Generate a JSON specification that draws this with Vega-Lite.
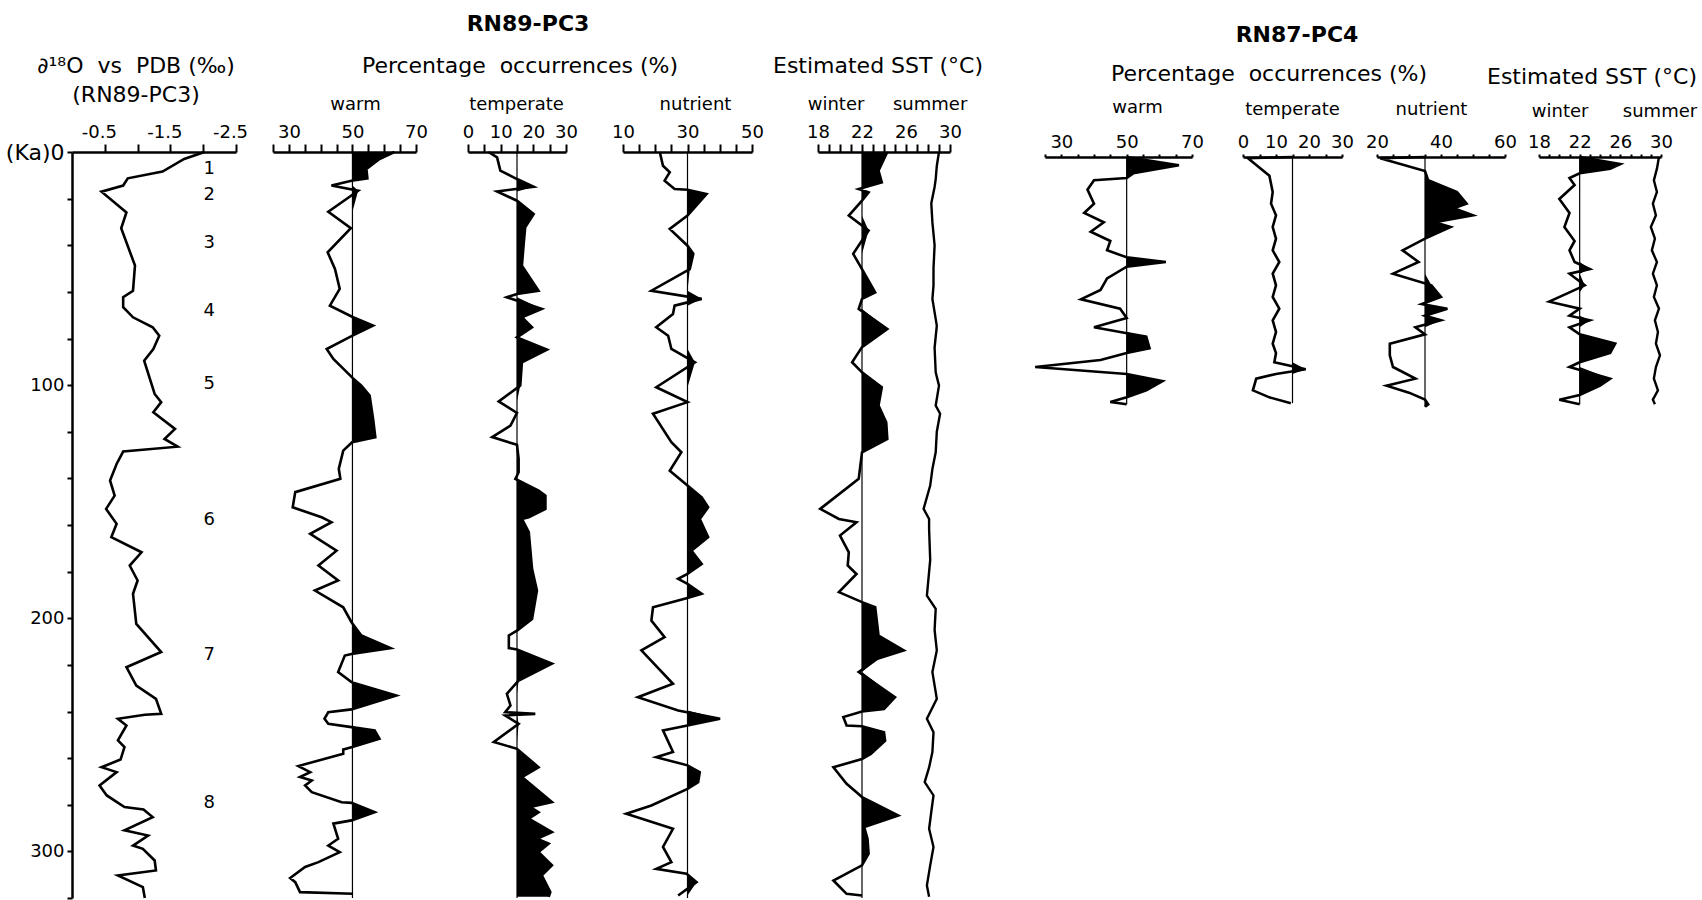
{
  "$schema": "https://vega.github.io/schema/vega-lite/v6.json",
  "background": "white",
  "padding": {"left": 5, "top": 13, "right": 0, "bottom": 0},
  "spacing": 0,
  "bounds": "flush",
  "config": {
    "font": "DejaVu Sans",
    "view": {"stroke": null},
    "axis": {"grid": false, "domainColor": "black", "domainWidth": 2.5, "tickColor": "black", "tickWidth": 2, "tickSize": 8, "labelColor": "black", "labelFont": "DejaVu Sans", "labelFontSize": 18, "labelPadding": 3, "labelFlush": false, "labelOverlap": false, "labelBound": false, "titleColor": "black", "titleFont": "DejaVu Sans", "titleFontSize": 18, "titleFontWeight": "normal"},
    "title": {"font": "DejaVu Sans", "fontSize": 22, "fontWeight": "normal", "color": "black", "anchor": "middle", "frame": "group", "subtitleFont": "DejaVu Sans", "subtitleFontSize": 19, "subtitleColor": "black"}
  },
  "datasets": {
    "d18o": [
      {"age":0,"v":-2.02},{"age":3.0,"v":-1.71},{"age":8.4,"v":-1.38},{"age":11.3,"v":-0.85},{"age":14.4,"v":-0.78},{"age":17.0,"v":-0.45},{"age":25.9,"v":-0.83},{"age":32.7,"v":-0.75},{"age":48.7,"v":-0.96},{"age":59.5,"v":-0.93},{"age":62.3,"v":-0.78},{"age":66.6,"v":-0.78},{"age":70.9,"v":-0.93},{"age":75.2,"v":-1.23},{"age":78.8,"v":-1.33},{"age":84.5,"v":-1.24},{"age":89.5,"v":-1.10},{"age":103.8,"v":-1.26},{"age":107.3,"v":-1.36},{"age":111.6,"v":-1.24},{"age":118.8,"v":-1.57},{"age":123.1,"v":-1.41},{"age":126.4,"v":-1.61},{"age":128.5,"v":-0.78},{"age":133.8,"v":-0.68},{"age":140.9,"v":-0.58},{"age":147.4,"v":-0.65},{"age":153.1,"v":-0.52},{"age":159.5,"v":-0.68},{"age":165.2,"v":-0.60},{"age":171.7,"v":-1.06},{"age":177.4,"v":-0.88},{"age":183.8,"v":-1.00},{"age":189.5,"v":-0.93},{"age":202.4,"v":-0.98},{"age":214.5,"v":-1.36},{"age":221.0,"v":-0.83},{"age":228.9,"v":-0.98},{"age":234.6,"v":-1.28},{"age":241.0,"v":-1.36},{"age":241.4,"v":-1.11},{"age":243.1,"v":-0.70},{"age":246.0,"v":-0.83},{"age":252.4,"v":-0.70},{"age":255.3,"v":-0.80},{"age":260.6,"v":-0.74},{"age":263.9,"v":-0.45},{"age":266.0,"v":-0.68},{"age":271.7,"v":-0.42},{"age":276.0,"v":-0.53},{"age":281.0,"v":-0.80},{"age":282.0,"v":-1.09},{"age":285.3,"v":-1.23},{"age":291.0,"v":-0.80},{"age":293.2,"v":-1.16},{"age":297.5,"v":-0.93},{"age":298.9,"v":-1.08},{"age":303.9,"v":-1.26},{"age":308.2,"v":-1.28},{"age":310.3,"v":-0.70},{"age":315.3,"v":-1.08},{"age":320,"v":-1.11}
    ],
    "stages": [
      {"stage":"1","age":7.3},{"stage":"2","age":18.4},{"stage":"3","age":39.0},{"stage":"4","age":68.2},{"stage":"5","age":99.5},{"stage":"6","age":157.8},{"stage":"7","age":215.7},{"stage":"8","age":279.2}
    ],
    "warm89": [
      {"age":0,"v":63.2},{"age":3.0,"v":58.5},{"age":7.3,"v":54.4},{"age":11.3,"v":54.7},{"age":12.3,"v":49.7},{"age":14.4,"v":43.4},{"age":16.6,"v":51.8},{"age":25.6,"v":42.4},{"age":32.7,"v":49.5},{"age":43.0,"v":42.2},{"age":50.2,"v":44.5},{"age":58.7,"v":46.0},{"age":65.9,"v":42.9},{"age":70.9,"v":50.2},{"age":74.5,"v":56.5},{"age":79.0,"v":49.7},{"age":84.5,"v":41.9},{"age":88.8,"v":44.0},{"age":97.1,"v":50.2},{"age":100.2,"v":52.8},{"age":104.5,"v":55.4},{"age":114.5,"v":56.5},{"age":122.3,"v":57.2},{"age":124.5,"v":49.9},{"age":128.1,"v":47.1},{"age":135.9,"v":45.7},{"age":140.2,"v":46.2},{"age":145.9,"v":32.0},{"age":152.4,"v":31.2},{"age":156.7,"v":40.3},{"age":158.8,"v":43.4},{"age":163.8,"v":36.7},{"age":171.0,"v":45.0},{"age":177.4,"v":39.3},{"age":183.8,"v":45.5},{"age":188.1,"v":38.2},{"age":195.3,"v":47.1},{"age":201.7,"v":49.7},{"age":207.4,"v":52.8},{"age":212.8,"v":62.0},{"age":215.3,"v":49.7},{"age":216.0,"v":47.6},{"age":223.1,"v":45.5},{"age":227.4,"v":49.7},{"age":233.1,"v":63.8},{"age":239.1,"v":49.7},{"age":240.3,"v":42.4},{"age":243.1,"v":41.2},{"age":245.3,"v":42.4},{"age":246.7,"v":49.7},{"age":248.1,"v":57.0},{"age":251.7,"v":58.5},{"age":255.3,"v":49.7},{"age":256.3,"v":47.1},{"age":258.1,"v":47.1},{"age":263.4,"v":33.0},{"age":266.0,"v":36.7},{"age":268.1,"v":33.5},{"age":269.6,"v":37.2},{"age":271.7,"v":35.1},{"age":274.6,"v":37.2},{"age":278.9,"v":46.6},{"age":279.2,"v":49.7},{"age":283.2,"v":57.0},{"age":286.7,"v":49.7},{"age":288.1,"v":44.0},{"age":294.6,"v":45.5},{"age":297.5,"v":42.4},{"age":300.3,"v":46.0},{"age":304.6,"v":39.3},{"age":306.7,"v":35.1},{"age":311.4,"v":30.4},{"age":313.2,"v":32.0},{"age":317.5,"v":33.5},{"age":318.2,"v":50.2}
    ],
    "temp89": [
      {"age":0,"v":6.3},{"age":2.3,"v":8.9},{"age":8.0,"v":9.9},{"age":11.6,"v":15.0},{"age":14.9,"v":20.1},{"age":16.9,"v":8.9},{"age":20.9,"v":15.0},{"age":26.6,"v":20.1},{"age":32.3,"v":17.5},{"age":40.2,"v":17.0},{"age":48.8,"v":16.5},{"age":59.5,"v":21.6},{"age":60.9,"v":15.0},{"age":62.3,"v":11.9},{"age":67.3,"v":22.6},{"age":70.9,"v":16.5},{"age":75.2,"v":19.6},{"age":79.5,"v":15.0},{"age":84.8,"v":24.2},{"age":90.2,"v":16.5},{"age":100.2,"v":16.0},{"age":107.0,"v":9.4},{"age":111.9,"v":15.0},{"age":117.4,"v":13.0},{"age":122.3,"v":7.4},{"age":125.6,"v":15.0},{"age":131.6,"v":15.5},{"age":137.4,"v":15.5},{"age":140.2,"v":14.5},{"age":145.2,"v":21.6},{"age":147.4,"v":23.7},{"age":153.1,"v":23.7},{"age":156.7,"v":18.6},{"age":157.4,"v":16.5},{"age":163.1,"v":18.6},{"age":178.8,"v":19.6},{"age":188.1,"v":21.1},{"age":200.3,"v":19.6},{"age":205.3,"v":15.0},{"age":207.4,"v":12.5},{"age":212.8,"v":12.5},{"age":213.4,"v":15.0},{"age":219.5,"v":25.7},{"age":226.7,"v":15.5},{"age":232.4,"v":11.9},{"age":237.4,"v":13.0},{"age":240.3,"v":11.4},{"age":241.0,"v":20.6},{"age":241.7,"v":11.4},{"age":245.3,"v":15.5},{"age":253.1,"v":7.9},{"age":256.0,"v":15.0},{"age":263.9,"v":21.6},{"age":268.1,"v":16.5},{"age":278.9,"v":25.7},{"age":281.0,"v":19.1},{"age":283.2,"v":21.6},{"age":286.0,"v":18.6},{"age":291.7,"v":25.7},{"age":294.6,"v":21.1},{"age":296.7,"v":24.7},{"age":300.3,"v":21.6},{"age":306.0,"v":25.7},{"age":310.3,"v":22.6},{"age":317.5,"v":25.2},{"age":319.5,"v":24.7}
    ],
    "nut89": [
      {"age":0,"v":21.4},{"age":5.9,"v":22.4},{"age":8.7,"v":24.5},{"age":12.3,"v":22.9},{"age":15.9,"v":26.0},{"age":16.2,"v":30},{"age":18.0,"v":35.9},{"age":27.3,"v":30},{"age":33.0,"v":24.5},{"age":40.2,"v":30},{"age":43.7,"v":31.8},{"age":50.2,"v":30.7},{"age":59.5,"v":18.8},{"age":63.0,"v":34.4},{"age":65.9,"v":26.0},{"age":69.5,"v":25.5},{"age":75.2,"v":20.3},{"age":78.8,"v":24.0},{"age":84.5,"v":25.0},{"age":90.2,"v":32.3},{"age":100.9,"v":20.3},{"age":107.3,"v":30},{"age":112.3,"v":19.3},{"age":124.5,"v":25.0},{"age":128.8,"v":28.1},{"age":136.7,"v":24.5},{"age":143.1,"v":30},{"age":148.1,"v":34.4},{"age":152.4,"v":36.4},{"age":157.4,"v":33.8},{"age":165.2,"v":36.4},{"age":171.0,"v":31.2},{"age":176.7,"v":34.4},{"age":181.0,"v":30},{"age":183.1,"v":27.1},{"age":185.2,"v":30},{"age":189.5,"v":34.4},{"age":191.4,"v":29.7},{"age":195.3,"v":19.3},{"age":201.0,"v":18.8},{"age":208.1,"v":22.9},{"age":213.8,"v":15.7},{"age":228.1,"v":25.5},{"age":233.9,"v":14.6},{"age":239.6,"v":27.1},{"age":243.1,"v":40.1},{"age":246.0,"v":30},{"age":248.1,"v":22.4},{"age":257.4,"v":25.5},{"age":259.6,"v":20.3},{"age":263.1,"v":30},{"age":266.0,"v":33.8},{"age":270.3,"v":33.3},{"age":273.2,"v":30},{"age":280.3,"v":18.8},{"age":283.9,"v":11.0},{"age":290.3,"v":25.5},{"age":298.1,"v":22.4},{"age":304.6,"v":25.0},{"age":307.5,"v":20.3},{"age":309.6,"v":29.7},{"age":313.2,"v":32.8},{"age":318.9,"v":27.1}
    ],
    "win89": [
      {"age":0,"v":24.3},{"age":8.0,"v":23.5},{"age":13.0,"v":23.8},{"age":15.9,"v":21.7},{"age":17.3,"v":22.6},{"age":20.9,"v":22},{"age":27.3,"v":20.8},{"age":33.7,"v":22.6},{"age":43.7,"v":21.2},{"age":50.2,"v":22},{"age":60.2,"v":23.2},{"age":63.0,"v":22},{"age":67.3,"v":21.7},{"age":75.9,"v":24.3},{"age":83.7,"v":22},{"age":90.2,"v":21.1},{"age":94.5,"v":22},{"age":100.9,"v":23.8},{"age":108.8,"v":23.5},{"age":116.0,"v":24.2},{"age":123.1,"v":24.3},{"age":128.8,"v":22},{"age":140.2,"v":21.7},{"age":153.1,"v":18.2},{"age":157.4,"v":19.9},{"age":158.8,"v":21.5},{"age":164.5,"v":20.0},{"age":171.7,"v":20.8},{"age":177.4,"v":20.7},{"age":181.0,"v":21.5},{"age":188.8,"v":19.9},{"age":193.1,"v":22},{"age":195.3,"v":23.2},{"age":207.4,"v":23.5},{"age":213.8,"v":25.8},{"age":217.4,"v":23.4},{"age":223.1,"v":21.7},{"age":233.9,"v":25.0},{"age":238.9,"v":24.0},{"age":240.0,"v":22},{"age":242.4,"v":20.3},{"age":246.0,"v":20.6},{"age":246.3,"v":22},{"age":248.9,"v":24.0},{"age":252.5,"v":24.1},{"age":258.2,"v":22.8},{"age":260.4,"v":22},{"age":263.9,"v":19.4},{"age":271.0,"v":20.6},{"age":274.6,"v":21.5},{"age":276.7,"v":22},{"age":284.6,"v":25.3},{"age":289.6,"v":22.2},{"age":294.6,"v":22.5},{"age":301.0,"v":22.6},{"age":306.0,"v":22},{"age":312.5,"v":19.4},{"age":318.2,"v":20.6},{"age":318.9,"v":22}
    ],
    "sum89": [
      {"age":0,"v":29.0},{"age":6,"v":28.8},{"age":11.6,"v":28.7},{"age":15.0,"v":28.6},{"age":22,"v":28.3},{"age":30.2,"v":28.4},{"age":40,"v":28.6},{"age":50,"v":28.5},{"age":57.3,"v":28.5},{"age":63.0,"v":28.4},{"age":74.5,"v":28.8},{"age":84,"v":28.6},{"age":94.5,"v":28.7},{"age":100.2,"v":29.0},{"age":108.8,"v":28.7},{"age":112.3,"v":29.1},{"age":120,"v":28.8},{"age":128.8,"v":28.7},{"age":136,"v":28.4},{"age":143.1,"v":28.2},{"age":153.1,"v":27.6},{"age":157.4,"v":28.1},{"age":161.7,"v":28.1},{"age":175,"v":28.2},{"age":190.3,"v":27.9},{"age":196.0,"v":28.7},{"age":205,"v":28.6},{"age":213.8,"v":28.8},{"age":223.1,"v":28.4},{"age":234.6,"v":28.8},{"age":243.1,"v":27.9},{"age":248.9,"v":28.5},{"age":257.4,"v":28.4},{"age":264,"v":28.1},{"age":270.3,"v":27.7},{"age":276.0,"v":28.5},{"age":283,"v":28.3},{"age":290.3,"v":28.1},{"age":298.1,"v":28.5},{"age":306,"v":28.2},{"age":314.6,"v":27.9},{"age":319.5,"v":28.1}
    ],
    "warm87": [
      {"age":0,"v":50},{"age":3.5,"v":66},{"age":7,"v":52},{"age":9,"v":50},{"age":10,"v":40},{"age":14,"v":38},{"age":20,"v":40},{"age":24,"v":37},{"age":28,"v":43},{"age":32,"v":39},{"age":36,"v":45},{"age":40,"v":44},{"age":43,"v":50},{"age":45,"v":62},{"age":47,"v":50},{"age":52,"v":44},{"age":57,"v":42},{"age":61,"v":36},{"age":65,"v":48},{"age":69,"v":50},{"age":73,"v":40},{"age":75,"v":48},{"age":77,"v":56},{"age":82,"v":57},{"age":84,"v":50},{"age":87,"v":42},{"age":90,"v":22},{"age":93,"v":50},{"age":96,"v":61},{"age":100,"v":56},{"age":103,"v":50},{"age":105,"v":45},{"age":106,"v":50}
    ],
    "temp87": [
      {"age":0,"v":15},{"age":0.5,"v":1.5},{"age":8,"v":8},{"age":15,"v":9},{"age":20,"v":8.5},{"age":25,"v":10},{"age":30,"v":9},{"age":35,"v":10},{"age":40,"v":9},{"age":45,"v":11},{"age":50,"v":9},{"age":55,"v":10},{"age":60,"v":9},{"age":65,"v":11},{"age":70,"v":9},{"age":75,"v":10},{"age":80,"v":9},{"age":84,"v":10},{"age":88,"v":9.5},{"age":91,"v":19},{"age":93,"v":10},{"age":95,"v":4},{"age":100,"v":3},{"age":103,"v":8},{"age":105.5,"v":14.5}
    ],
    "nut87": [
      {"age":0,"v":35},{"age":0.5,"v":21},{"age":6,"v":35},{"age":10,"v":36},{"age":15,"v":45},{"age":20,"v":48},{"age":22,"v":44},{"age":25,"v":50},{"age":28,"v":38},{"age":30,"v":43},{"age":35,"v":35},{"age":40,"v":28},{"age":45,"v":33},{"age":50,"v":25},{"age":55,"v":37},{"age":60,"v":40},{"age":63,"v":34},{"age":65,"v":42},{"age":68,"v":35},{"age":70,"v":40},{"age":73,"v":32},{"age":76,"v":35},{"age":80,"v":24},{"age":85,"v":24},{"age":90,"v":25},{"age":95,"v":32},{"age":98,"v":23},{"age":101,"v":30},{"age":104,"v":35},{"age":106,"v":36},{"age":107,"v":35}
    ],
    "win87": [
      {"age":0,"v":22},{"age":3,"v":26},{"age":5,"v":25},{"age":7,"v":22},{"age":9,"v":21},{"age":12,"v":21.5},{"age":18,"v":20},{"age":24,"v":21},{"age":30,"v":20.5},{"age":36,"v":21.5},{"age":40,"v":21},{"age":45,"v":21.5},{"age":48,"v":23},{"age":50,"v":21},{"age":55,"v":22.5},{"age":58,"v":21},{"age":62,"v":19},{"age":65,"v":22},{"age":68,"v":21},{"age":70,"v":23},{"age":73,"v":21},{"age":76,"v":22},{"age":80,"v":25.5},{"age":84,"v":25},{"age":88,"v":22},{"age":90,"v":21},{"age":95,"v":25},{"age":98,"v":24},{"age":102,"v":22},{"age":104,"v":20},{"age":106,"v":22}
    ],
    "sum87": [
      {"age":0,"v":29.8},{"age":5,"v":29.6},{"age":10,"v":29.3},{"age":15,"v":29.6},{"age":20,"v":29.2},{"age":25,"v":29.5},{"age":30,"v":29.0},{"age":35,"v":29.4},{"age":40,"v":29.1},{"age":45,"v":29.6},{"age":50,"v":29.2},{"age":55,"v":29.6},{"age":60,"v":29.3},{"age":65,"v":29.8},{"age":70,"v":29.4},{"age":75,"v":29.7},{"age":80,"v":29.5},{"age":85,"v":29.9},{"age":90,"v":29.5},{"age":95,"v":29.3},{"age":100,"v":29.7},{"age":104,"v":29.2},{"age":106,"v":29.4}
    ]
  },
  "hconcat": [
    {
      "width": 164, "height": 746,
      "title": {"text": "∂¹⁸O\u00a0\u00a0vs\u00a0\u00a0PDB (‰)", "subtitle": "(RN89-PC3)", "subtitleFontSize": 22, "subtitlePadding": 7, "offset": 16, "dx": -18},
      "layer": [
        {"data": {"name": "d18o"},
         "mark": {"type": "line", "color": "black", "strokeWidth": 2.6, "strokeMiterLimit": 4},
         "encoding": {
           "x": {"field": "v", "type": "quantitative", "scale": {"domain": [-2.5, 0], "reverse": true, "zero": false, "nice": false},
                 "axis": {"orient": "top", "values": [-0.5, -1, -1.5, -2, -2.5], "labelOffset": -6, "labelExpr": "datum.value == -0.5 ? '-0.5' : datum.value == -1.5 ? '-1.5' : datum.value == -2.5 ? '-2.5' : ''", "title": null}},
           "y": {"field": "age", "type": "quantitative", "scale": {"domain": [0, 320], "reverse": true, "zero": false, "nice": false},
                 "axis": {"orient": "left", "values": [0,10,20,30,40,50,60,70,80,90,100,110,120,130,140,150,160,170,180,190,200,210,220,230,240,250,260,270,280,290,300,310,320], "labelExpr": "datum.value == 0 ? '(Ka)0' : (datum.value % 50 == 0 ? datum.label : '')", "labelFontSize": {"condition": {"test": "datum.value == 0", "value": 22}, "value": 18}, "tickSize": 5, "labelPadding": 3, "title": null}},
           "order": {"field": "age", "type": "quantitative"}
         }},
        {"data": {"name": "stages"},
         "mark": {"type": "text", "fontSize": 18, "color": "black", "font": "DejaVu Sans"},
         "encoding": {
           "x": {"datum": -2.09, "type": "quantitative", "scale": {"domain": [-2.5, 0], "reverse": true, "zero": false, "nice": false}},
           "y": {"field": "age", "type": "quantitative"},
           "text": {"field": "stage"}
         }}
      ]
    },
    {"width": 37, "height": 10, "data": {"values": []}, "mark": "point"},
    {
      "width": 143, "height": 746, "data": {"name": "warm89"},
      "title": {"text": "Percentage\u00a0\u00a0occurrences (%)", "offset": 17, "dx": 175.5},
      "resolve": {"scale": {"x": "independent"}},
      "layer": [
        {"mark": {"type": "area", "orient": "horizontal", "color": "black"},
         "encoding": {
           "y": {"field": "age", "type": "quantitative", "scale": {"domain": [0, 320], "reverse": true, "zero": false, "nice": false}, "axis": null},
           "x": {"field": "v", "type": "quantitative", "scale": {"domain": [50, 70], "range": [79.44, 143], "clamp": true, "zero": false, "nice": false}, "axis": null},
           "x2": {"datum": 50}}},
        {"data": {"values": [{}]}, "mark": {"type": "rule", "color": "black", "strokeWidth": 1.2},
         "encoding": {
           "x": {"datum": 50, "type": "quantitative", "scale": {"domain": [25, 70], "zero": false, "nice": false}, "axis": null},
           "y": {"datum": 0, "type": "quantitative"}, "y2": {"datum": 320}}},
        {"mark": {"type": "line", "color": "black", "strokeWidth": 2.6, "strokeMiterLimit": 4},
         "encoding": {
           "x": {"field": "v", "type": "quantitative", "scale": {"domain": [25, 70], "zero": false, "nice": false},
                 "axis": {"orient": "top", "values": [25,30,35,40,45,50,55,60,65,70], "labelExpr": "indexof([30,50,70], datum.value) >= 0 ? datum.label : ''", "title": "warm", "titleX": 82, "titleY": -48, "titleBaseline": "middle", "titleAlign": "center"}},
           "y": {"field": "age", "type": "quantitative"},
           "order": {"field": "age", "type": "quantitative"}}}
      ]
    },
    {"width": 52, "height": 10, "data": {"values": []}, "mark": "point"},
    {
      "width": 98, "height": 746, "data": {"name": "temp89"},
      "title": {"text": "RN89-PC3", "fontWeight": "bold", "fontSize": 22, "offset": 59, "dx": 11},
      "resolve": {"scale": {"x": "independent"}},
      "layer": [
        {"mark": {"type": "area", "orient": "horizontal", "color": "black"},
         "encoding": {
           "y": {"field": "age", "type": "quantitative", "scale": {"domain": [0, 320], "reverse": true, "zero": false, "nice": false}, "axis": null},
           "x": {"field": "v", "type": "quantitative", "scale": {"domain": [15, 30], "range": [49, 98], "clamp": true, "zero": false, "nice": false}, "axis": null},
           "x2": {"datum": 15}}},
        {"data": {"values": [{}]}, "mark": {"type": "rule", "color": "black", "strokeWidth": 1.2},
         "encoding": {
           "x": {"datum": 15, "type": "quantitative", "scale": {"domain": [0, 30], "zero": false, "nice": false}, "axis": null},
           "y": {"datum": 0, "type": "quantitative"}, "y2": {"datum": 320}}},
        {"mark": {"type": "line", "color": "black", "strokeWidth": 2.6, "strokeMiterLimit": 4},
         "encoding": {
           "x": {"field": "v", "type": "quantitative", "scale": {"domain": [0, 30], "zero": false, "nice": false},
                 "axis": {"orient": "top", "values": [0,5,10,15,20,25,30], "labelExpr": "indexof([0,10,20,30], datum.value) >= 0 ? datum.label : ''", "title": "temperate", "titleX": 48, "titleY": -48, "titleBaseline": "middle", "titleAlign": "center"}},
           "y": {"field": "age", "type": "quantitative"},
           "order": {"field": "age", "type": "quantitative"}}}
      ]
    },
    {"width": 57, "height": 10, "data": {"values": []}, "mark": "point"},
    {
      "width": 129, "height": 746, "data": {"name": "nut89"},
      "resolve": {"scale": {"x": "independent"}},
      "layer": [
        {"mark": {"type": "area", "orient": "horizontal", "color": "black"},
         "encoding": {
           "y": {"field": "age", "type": "quantitative", "scale": {"domain": [0, 320], "reverse": true, "zero": false, "nice": false}, "axis": null},
           "x": {"field": "v", "type": "quantitative", "scale": {"domain": [30, 50], "range": [64.5, 129], "clamp": true, "zero": false, "nice": false}, "axis": null},
           "x2": {"datum": 30}}},
        {"data": {"values": [{}]}, "mark": {"type": "rule", "color": "black", "strokeWidth": 1.2},
         "encoding": {
           "x": {"datum": 30, "type": "quantitative", "scale": {"domain": [10, 50], "zero": false, "nice": false}, "axis": null},
           "y": {"datum": 0, "type": "quantitative"}, "y2": {"datum": 320}}},
        {"mark": {"type": "line", "color": "black", "strokeWidth": 2.6, "strokeMiterLimit": 4},
         "encoding": {
           "x": {"field": "v", "type": "quantitative", "scale": {"domain": [10, 50], "zero": false, "nice": false},
                 "axis": {"orient": "top", "values": [10,15,20,25,30,35,40,45,50], "labelExpr": "indexof([10,30,50], datum.value) >= 0 ? datum.label : ''", "title": "nutrient", "titleX": 72, "titleY": -48, "titleBaseline": "middle", "titleAlign": "center"}},
           "y": {"field": "age", "type": "quantitative"},
           "order": {"field": "age", "type": "quantitative"}}}
      ]
    },
    {"width": 66, "height": 10, "data": {"values": []}, "mark": "point"},
    {
      "width": 132, "height": 746,
      "title": {"text": "Estimated SST (°C)", "offset": 17, "dx": -6},
      "resolve": {"scale": {"x": "independent"}},
      "layer": [
        {"data": {"name": "win89"}, "mark": {"type": "area", "orient": "horizontal", "color": "black"},
         "encoding": {
           "y": {"field": "age", "type": "quantitative", "scale": {"domain": [0, 320], "reverse": true, "zero": false, "nice": false}, "axis": null},
           "x": {"field": "v", "type": "quantitative", "scale": {"domain": [22, 30], "range": [44, 132], "clamp": true, "zero": false, "nice": false}, "axis": null},
           "x2": {"datum": 22}}},
        {"data": {"values": [{}]}, "mark": {"type": "rule", "color": "black", "strokeWidth": 1.2},
         "encoding": {
           "x": {"datum": 22, "type": "quantitative", "scale": {"domain": [18, 30], "zero": false, "nice": false}, "axis": null},
           "y": {"datum": 0, "type": "quantitative"}, "y2": {"datum": 320}}},
        {"data": {"name": "sum89"}, "mark": {"type": "line", "color": "black", "strokeWidth": 2.4, "strokeMiterLimit": 4},
         "encoding": {
           "x": {"field": "v", "type": "quantitative", "scale": {"domain": [18, 30], "zero": false, "nice": false}, "axis": null},
           "y": {"field": "age", "type": "quantitative"},
           "order": {"field": "age", "type": "quantitative"}}},
        {"data": {"name": "win89"}, "mark": {"type": "line", "color": "black", "strokeWidth": 2.6, "strokeMiterLimit": 4},
         "encoding": {
           "x": {"field": "v", "type": "quantitative", "scale": {"domain": [18, 30], "zero": false, "nice": false},
                 "axis": {"orient": "top", "values": [18,19,20,21,22,23,24,25,26,27,28,29,30], "labelExpr": "indexof([18,22,26,30], datum.value) >= 0 ? datum.label : ''", "title": "winter\u00a0\u00a0\u00a0\u00a0\u00a0summer", "titleX": 69, "titleY": -48, "titleBaseline": "middle", "titleAlign": "center"}},
           "y": {"field": "age", "type": "quantitative"},
           "order": {"field": "age", "type": "quantitative"}}}
      ]
    },
    {"width": 95, "height": 10, "data": {"values": []}, "mark": "point"},
    {
      "width": 147, "height": 257, "data": {"name": "warm87"},
      "title": {"text": "Percentage\u00a0\u00a0occurrences (%)", "offset": 12, "dx": 150.5},
      "resolve": {"scale": {"x": "independent"}},
      "layer": [
        {"mark": {"type": "area", "orient": "horizontal", "color": "black"},
         "encoding": {
           "y": {"field": "age", "type": "quantitative", "scale": {"domain": [-2.14, 108], "reverse": true, "zero": false, "nice": false}, "axis": null},
           "x": {"field": "v", "type": "quantitative", "scale": {"domain": [50, 70], "range": [81.67, 147], "clamp": true, "zero": false, "nice": false}, "axis": null},
           "x2": {"datum": 50}}},
        {"data": {"values": [{}]}, "mark": {"type": "rule", "color": "black", "strokeWidth": 1.2},
         "encoding": {
           "x": {"datum": 50, "type": "quantitative", "scale": {"domain": [25, 70], "zero": false, "nice": false}, "axis": null},
           "y": {"datum": 0, "type": "quantitative"}, "y2": {"datum": 106}}},
        {"mark": {"type": "line", "color": "black", "strokeWidth": 2.6, "strokeMiterLimit": 4},
         "encoding": {
           "x": {"field": "v", "type": "quantitative", "scale": {"domain": [25, 70], "zero": false, "nice": false},
                 "axis": {"orient": "top", "offset": -5, "tickSize": 3, "values": [25,30,35,40,45,50,55,60,65,70], "labelExpr": "indexof([30,50,70], datum.value) >= 0 ? datum.label : ''", "title": "warm", "titleX": 92, "titleY": -50, "titleBaseline": "middle", "titleAlign": "center"}},
           "y": {"field": "age", "type": "quantitative"},
           "order": {"field": "age", "type": "quantitative"}}}
      ]
    },
    {"width": 51, "height": 10, "data": {"values": []}, "mark": "point"},
    {
      "width": 99, "height": 257, "data": {"name": "temp87"},
      "title": {"text": "RN87-PC4", "fontWeight": "bold", "fontSize": 22, "offset": 53, "dx": 4.5},
      "resolve": {"scale": {"x": "independent"}},
      "layer": [
        {"mark": {"type": "area", "orient": "horizontal", "color": "black"},
         "encoding": {
           "y": {"field": "age", "type": "quantitative", "scale": {"domain": [-2.14, 108], "reverse": true, "zero": false, "nice": false}, "axis": null},
           "x": {"field": "v", "type": "quantitative", "scale": {"domain": [15, 30], "range": [49.5, 99], "clamp": true, "zero": false, "nice": false}, "axis": null},
           "x2": {"datum": 15}}},
        {"data": {"values": [{}]}, "mark": {"type": "rule", "color": "black", "strokeWidth": 1.2},
         "encoding": {
           "x": {"datum": 15, "type": "quantitative", "scale": {"domain": [0, 30], "zero": false, "nice": false}, "axis": null},
           "y": {"datum": 0, "type": "quantitative"}, "y2": {"datum": 105.5}}},
        {"mark": {"type": "line", "color": "black", "strokeWidth": 2.6, "strokeMiterLimit": 4},
         "encoding": {
           "x": {"field": "v", "type": "quantitative", "scale": {"domain": [0, 30], "zero": false, "nice": false},
                 "axis": {"orient": "top", "offset": -5, "tickSize": 3, "values": [0,5,10,15,20,25,30], "labelExpr": "indexof([0,10,20,30], datum.value) >= 0 ? datum.label : ''", "title": "temperate", "titleX": 49, "titleY": -48, "titleBaseline": "middle", "titleAlign": "center"}},
           "y": {"field": "age", "type": "quantitative"},
           "order": {"field": "age", "type": "quantitative"}}}
      ]
    },
    {"width": 35, "height": 10, "data": {"values": []}, "mark": "point"},
    {
      "width": 128, "height": 257, "data": {"name": "nut87"},
      "resolve": {"scale": {"x": "independent"}},
      "layer": [
        {"mark": {"type": "area", "orient": "horizontal", "color": "black"},
         "encoding": {
           "y": {"field": "age", "type": "quantitative", "scale": {"domain": [-2.14, 108], "reverse": true, "zero": false, "nice": false}, "axis": null},
           "x": {"field": "v", "type": "quantitative", "scale": {"domain": [35, 60], "range": [48, 128], "clamp": true, "zero": false, "nice": false}, "axis": null},
           "x2": {"datum": 35}}},
        {"data": {"values": [{}]}, "mark": {"type": "rule", "color": "black", "strokeWidth": 1.2},
         "encoding": {
           "x": {"datum": 35, "type": "quantitative", "scale": {"domain": [20, 60], "zero": false, "nice": false}, "axis": null},
           "y": {"datum": 0, "type": "quantitative"}, "y2": {"datum": 107}}},
        {"mark": {"type": "line", "color": "black", "strokeWidth": 2.6, "strokeMiterLimit": 4},
         "encoding": {
           "x": {"field": "v", "type": "quantitative", "scale": {"domain": [20, 60], "zero": false, "nice": false},
                 "axis": {"orient": "top", "offset": -5, "tickSize": 3, "values": [20,25,30,35,40,45,50,55,60], "labelExpr": "indexof([20,40,60], datum.value) >= 0 ? datum.label : ''", "title": "nutrient", "titleX": 54, "titleY": -48, "titleBaseline": "middle", "titleAlign": "center"}},
           "y": {"field": "age", "type": "quantitative"},
           "order": {"field": "age", "type": "quantitative"}}}
      ]
    },
    {"width": 34, "height": 10, "data": {"values": []}, "mark": "point"},
    {
      "width": 122, "height": 257,
      "title": {"text": "Estimated SST (°C)", "offset": 13, "dx": -8},
      "resolve": {"scale": {"x": "independent"}},
      "layer": [
        {"data": {"name": "win87"}, "mark": {"type": "area", "orient": "horizontal", "color": "black"},
         "encoding": {
           "y": {"field": "age", "type": "quantitative", "scale": {"domain": [-2.14, 108], "reverse": true, "zero": false, "nice": false}, "axis": null},
           "x": {"field": "v", "type": "quantitative", "scale": {"domain": [22, 30], "range": [40.67, 122], "clamp": true, "zero": false, "nice": false}, "axis": null},
           "x2": {"datum": 22}}},
        {"data": {"values": [{}]}, "mark": {"type": "rule", "color": "black", "strokeWidth": 1.2},
         "encoding": {
           "x": {"datum": 22, "type": "quantitative", "scale": {"domain": [18, 30], "zero": false, "nice": false}, "axis": null},
           "y": {"datum": 0, "type": "quantitative"}, "y2": {"datum": 106}}},
        {"data": {"name": "sum87"}, "mark": {"type": "line", "color": "black", "strokeWidth": 2.4, "strokeMiterLimit": 4},
         "encoding": {
           "x": {"field": "v", "type": "quantitative", "scale": {"domain": [18, 30], "zero": false, "nice": false}, "axis": null},
           "y": {"field": "age", "type": "quantitative"},
           "order": {"field": "age", "type": "quantitative"}}},
        {"data": {"name": "win87"}, "mark": {"type": "line", "color": "black", "strokeWidth": 2.6, "strokeMiterLimit": 4},
         "encoding": {
           "x": {"field": "v", "type": "quantitative", "scale": {"domain": [18, 30], "zero": false, "nice": false},
                 "axis": {"orient": "top", "offset": -5, "tickSize": 3, "values": [18,19,20,21,22,23,24,25,26,27,28,29,30], "labelExpr": "indexof([18,22,26,30], datum.value) >= 0 ? datum.label : ''", "title": "winter\u00a0\u00a0\u00a0\u00a0\u00a0\u00a0summer", "titleX": 75, "titleY": -46, "titleBaseline": "middle", "titleAlign": "center"}},
           "y": {"field": "age", "type": "quantitative"},
           "order": {"field": "age", "type": "quantitative"}}}
      ]
    }
  ]
}
